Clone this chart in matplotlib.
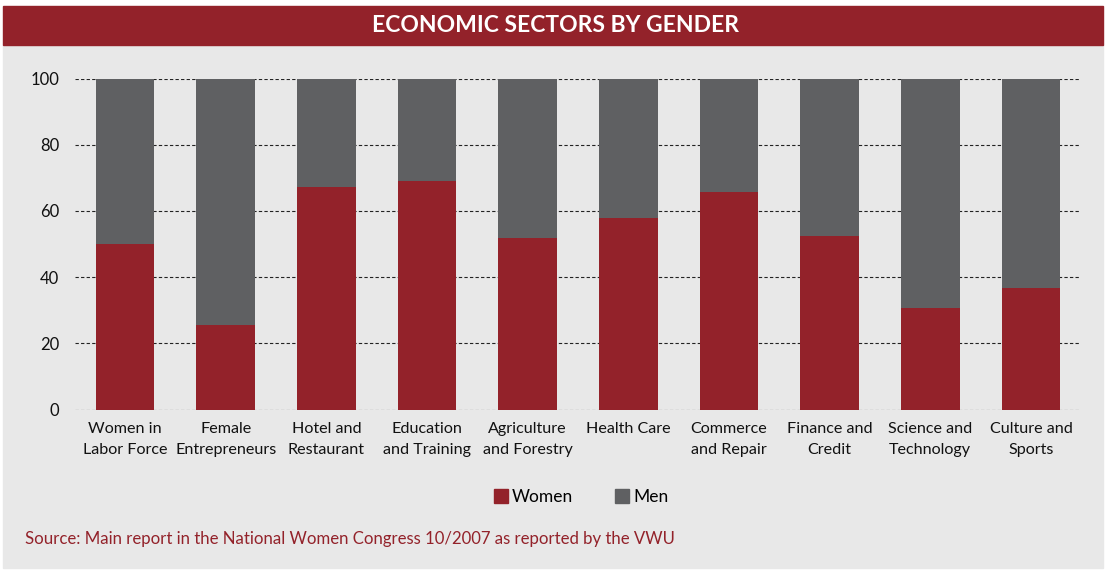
import matplotlib.pyplot as plt
from matplotlib.patches import Rectangle, Patch

# ---------------- Données
secteurs = ["Women in\nLabor Force", "Female\nEntrepreneurs", "Hotel and\nRestaurant",
            "Education\nand Training", "Agriculture\nand Forestry", "Health Care",
            "Commerce\nand Repair", "Finance and\nCredit", "Science and\nTechnology",
            "Culture and\nSports"]
femmes = [50, 25.5, 67.2, 69, 51.8, 57.9, 65.8, 52.4, 30.7, 36.7]
hommes = [100 - f for f in femmes]
graduations = [0, 20, 40, 60, 80, 100]

rouge = "#93222a"
gris = "#5f6062"
fond = "#e8e8e8"

plt.rcParams['font.family'] = ['Lato', 'DejaVu Sans']

fig = plt.figure(figsize=(11.08, 5.71), dpi=100)

# fond gris + bandeau titre
fig.patches.append(Rectangle((3/1108, 1 - 568/571), 1100/1108, 523/571,
                             transform=fig.transFigure, color=fond, zorder=-2))
fig.patches.append(Rectangle((3/1108, 1 - 45/571), 1100/1108, 39/571,
                             transform=fig.transFigure, color=rouge, zorder=-1))
fig.text(556/1108, 1 - 26/571, "ECONOMIC SECTORS BY GENDER", color="white",
         fontsize=16.5, fontweight="bold", ha="center", va="center")

ax = fig.add_axes([74.7/1108, 1 - 409.5/571, 1006.6/1108, 331/571])
ax.set_facecolor("none")

x = range(len(secteurs))
ax.bar(x, femmes, width=0.58, color=rouge, zorder=3)
ax.bar(x, hommes, width=0.58, bottom=femmes, color=gris, zorder=3)

ax.set_xlim(-0.5, len(secteurs) - 0.5)
ax.set_ylim(0, 100)
ax.set_yticks(graduations)
ax.set_xticks(list(x))
ax.set_xticklabels(secteurs, fontsize=11.6, color="#111111", linespacing=1.6)
ax.tick_params(axis='y', length=0, pad=11, labelsize=12, labelcolor="#111111")
ax.tick_params(axis='x', length=0, pad=9)
for s in ax.spines.values():
    s.set_visible(False)
for g in graduations:
    ax.axhline(g, color="#222222", linestyle=(0, (3, 2)), linewidth=0.8, zorder=1)

# légende
poignees = [Patch(color=rouge, label="Women"), Patch(color=gris, label="Men")]
fig.legend(handles=poignees, loc="center", bbox_to_anchor=(581/1108, 1 - 497/571),
           ncol=2, frameon=False, fontsize=12.5, handlelength=0.8, handleheight=0.8,
           handletextpad=0.25, columnspacing=2.4)

# source
fig.text(25/1108, 1 - 539/571,
         "Source: Main report in the National Women Congress 10/2007 as reported by the VWU",
         color=rouge, fontsize=12.1, ha="left", va="center")

plt.savefig("out.png", dpi=100)
